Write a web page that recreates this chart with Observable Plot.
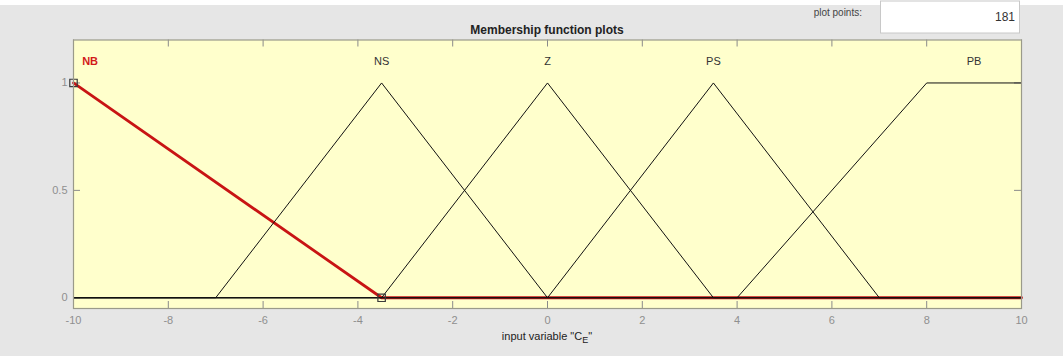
<!DOCTYPE html>
<html>
<head>
<meta charset="utf-8">
<script src="https://cdn.jsdelivr.net/npm/d3@7"></script>
<script src="https://cdn.jsdelivr.net/npm/@observablehq/plot@0.6"></script>
<style>
  html, body { margin: 0; padding: 0; background: #e6e6e6; }
  #chart svg { display: block; font-family: "Liberation Sans", Arial, sans-serif; }
</style>
</head>
<body>
<div id="chart"></div>
<script>
// Membership functions of input variable "C_E" (polyline vertices)
const mfNames = ["NB", "NS", "Z", "PS", "PB"];
const mfXs = [
  [-10, -3.5, 10],
  [-10, -7, -3.5, 0, 10],
  [-10, -3.5, 0, 3.5, 10],
  [-10, 0, 3.5, 7, 10],
  [-10, 4, 8, 10]
];
const mfYs = [
  [1, 0, 0],
  [0, 0, 1, 0, 0],
  [0, 0, 1, 0, 0],
  [0, 0, 1, 0, 0],
  [0, 0, 1, 1]
];
const labelXs = [-9.65, -3.5, 0, 3.5, 9];
const labelY = 1.1;
const selectedName = "NB";
const selectedHandlesX = [-10, -3.5];
const selectedHandlesY = [1, 0];
const xTicks = [-10, -8, -6, -4, -2, 0, 2, 4, 6, 8, 10];
const yTicks = [0, 0.5, 1];
const yTickLabels = ["0", "0.5", "1"];
const plotPoints = 181;

const rows = [];
mfNames.forEach((name, i) => {
  mfXs[i].forEach((x, j) => rows.push({name, x, y: mfYs[i][j]}));
});
const others = rows.filter(d => d.name !== selectedName);
const selected = rows.filter(d => d.name === selectedName);
const labels = mfNames.map((name, i) => ({name, x: labelXs[i], y: labelY}));
const handles = selectedHandlesX.map((x, i) => ({x, y: selectedHandlesY[i]}));

const W = 1063, H = 356;
const mL = 73, mR = 42, mT = 39.5, mB = 48;
const frameH = H - mT - mB;
const tickLen = 7;
const tickColor = "#8a8a8a";

const chart = Plot.plot({
  width: W,
  height: H,
  marginLeft: mL,
  marginRight: mR,
  marginTop: mT,
  marginBottom: mB,
  style: {background: "transparent", fontFamily: "Liberation Sans, Arial, sans-serif"},
  x: {domain: [-10, 10]},
  y: {domain: [-0.05, 1.2]},
  marks: [
    Plot.frame({fill: "#ffffcc", stroke: null}),
    // inner ticks (bottom, top, left, right)
    Plot.ruleX(xTicks, {x: d => d, insetTop: frameH - tickLen, stroke: tickColor}),
    Plot.ruleX(xTicks, {x: d => d, insetBottom: frameH - tickLen, stroke: tickColor}),
    Plot.ruleY(yTicks, {y: d => d, insetRight: W - mL - mR - tickLen, stroke: tickColor}),
    Plot.ruleY(yTicks, {y: d => d, insetLeft: W - mL - mR - tickLen, stroke: tickColor}),
    Plot.line(selected, {x: "x", y: "y", stroke: "#c81414", strokeWidth: 2.8}),
    Plot.line(others, {x: "x", y: "y", z: "name", stroke: "#111", strokeWidth: 1}),
    Plot.dot(handles, {x: "x", y: "y", symbol: "square", r: 4.2, stroke: "#3a3a3a", strokeWidth: 1.2, fill: "none"}),
    Plot.text(labels.filter(d => d.name !== selectedName), {x: "x", y: "y", text: "name", fill: "#333", fontSize: 11}),
    Plot.text(labels.filter(d => d.name === selectedName), {x: "x", y: "y", text: "name", fill: "#d21a1a", fontSize: 11, fontWeight: "bold"}),
    Plot.axisX(xTicks, {anchor: "bottom", tickSize: 0, tickPadding: 8, label: null, color: "#8f8f8f", fontSize: 11, tickFormat: d => String(d)}),
    Plot.axisY(yTicks, {anchor: "left", tickSize: 0, tickPadding: 6, label: null, color: "#8f8f8f", fontSize: 11, tickFormat: (d, i) => yTickLabels[i]}),
    Plot.frame({stroke: "#9a9a8a", strokeWidth: 1.2})
  ]
});

const svg = d3.select(chart);
// white strip at top, drawn behind
svg.insert("rect", ":first-child").attr("x", 0).attr("y", 0).attr("width", W).attr("height", 5).attr("fill", "#ffffff");
// plot points box
svg.append("rect").attr("x", 880.5).attr("y", 1).attr("width", 139).attr("height", 32)
  .attr("fill", "#ffffff").attr("stroke", "#c8c8c8");
svg.append("text").attr("x", 1015).attr("y", 21).attr("text-anchor", "end")
  .attr("font-size", 12).attr("fill", "#333").text(String(plotPoints));
svg.append("text").attr("x", 862).attr("y", 16).attr("text-anchor", "end")
  .attr("font-size", 10).attr("fill", "#444").text("plot points:");
// title
svg.append("text").attr("x", 547).attr("y", 34).attr("text-anchor", "middle")
  .attr("font-size", 12).attr("font-weight", "bold").attr("fill", "#222").text("Membership function plots");
// x-axis label with subscript
const xl = svg.append("text").attr("x", 547).attr("y", 340).attr("text-anchor", "middle")
  .attr("font-size", 11).attr("fill", "#222");
xl.append("tspan").text('input variable "C');
xl.append("tspan").attr("font-size", 9).attr("dy", 3).text("E");
xl.append("tspan").attr("dy", -3).text('"');

document.getElementById("chart").appendChild(chart);
</script>
</body>
</html>
